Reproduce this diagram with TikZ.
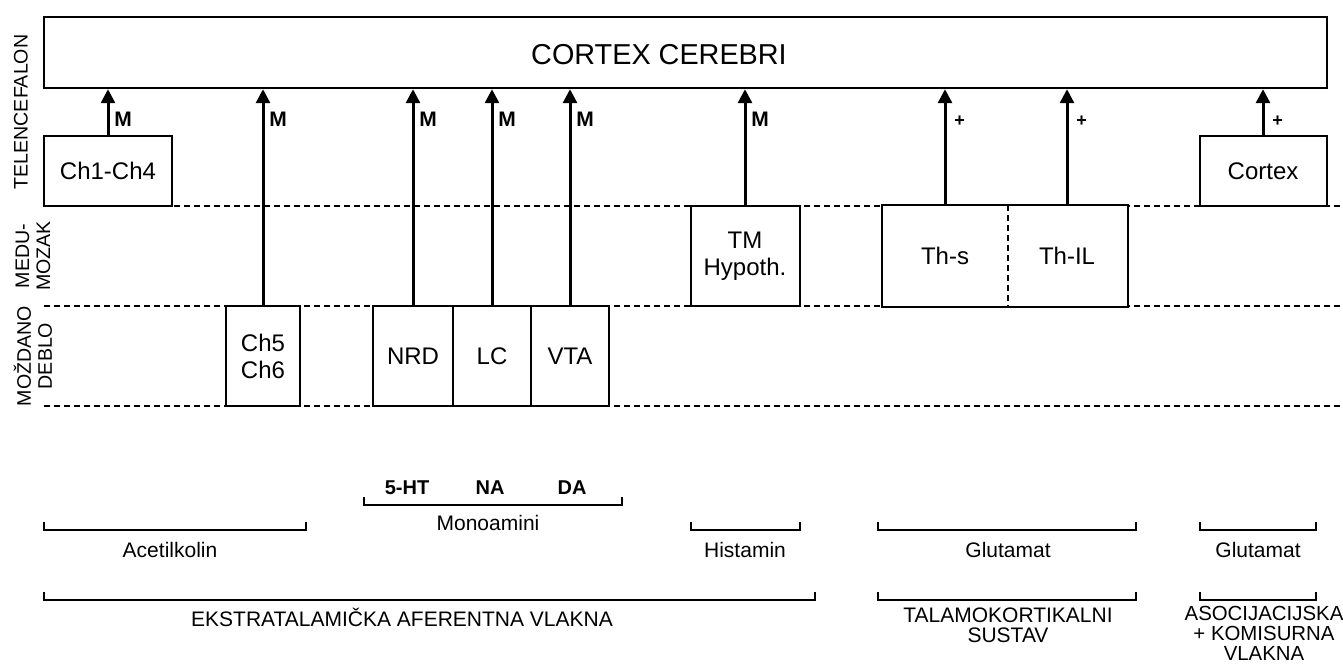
\documentclass[tikz,border=0pt]{standalone}
\usepackage{fontspec}
\setmainfont{Liberation Sans}
\usetikzlibrary{arrows.meta, calc}

\begin{document}
\begin{tikzpicture}[x=0.5pt, y=-0.5pt,
    box/.style={rectangle, draw, line width=1pt, fill=white, inner sep=0pt,
                font=\fontsize{12}{13.5}\selectfont, align=center},
    arr/.style={-{Triangle[length=7pt, width=7pt]}, line width=1.5pt},
    lvl/.style={line width=1pt, dash pattern=on 3pt off 2pt},
    side/.style={rotate=90, inner sep=0pt, align=center,
                 font=\fontsize{9.8}{10.5}\selectfont},
    syn/.style={inner sep=0pt, anchor=west, font=\bfseries\fontsize{10.5}{11}\selectfont},
    brk/.style={line width=1.2pt},
    lab/.style={inner sep=0pt, align=center, font=\fontsize{10.5}{10}\selectfont}
  ]
  \useasboundingbox (0,0) rectangle (1343,667);

  % levels
  \draw[lvl] (44,206) -- (1340,206);
  \draw[lvl] (44,306) -- (1340,306);
  \draw[lvl] (44,406) -- (1340,406);

  \node[side] (tel)  at (21,112) {TELENCEFALON};
  \node[side] (medu) at (33,256) {MEDU-\\MOZAK};
  \node[side] (mozd) at (33,356) {MOŽDANO\\DEBLO};

  % cortex
  \node[box, line width=1.2pt, minimum width=641.5pt, minimum height=35.5pt] (cc)
        at (685.5,52.5) {};
  \node[font=\fontsize{14.4}{15}\selectfont, inner sep=0pt] (cctext) at (659,55)
        {CORTEX CEREBRI};

  % nuclei
  \node[box, minimum width=64pt, minimum height=35pt] (ch14) at (108,171) {Ch1-Ch4};
  \node[box, minimum width=37pt, minimum height=50pt] (ch56) at (263,356) {Ch5\\Ch6};
  \node[box, minimum width=40pt, minimum height=50pt] (nrd)  at (413,356) {NRD};
  \node[box, minimum width=39pt, minimum height=50pt] (lc)   at (492,356) {LC};
  \node[box, minimum width=39pt, minimum height=50pt] (vta)  at (570,356) {VTA};
  \node[box, minimum width=54.5pt, minimum height=50pt] (tm) at (745,256) {TM\\Hypoth.};
  \node[box, draw=none, minimum width=62pt, minimum height=50pt] (ths)  at (945,256) {Th-s};
  \node[box, draw=none, minimum width=60pt, minimum height=50pt] (thil) at (1067,256) {Th-IL};
  \draw[line width=1pt] (ths.north west) rectangle (thil.south east);
  \draw[line width=0.8pt, dash pattern=on 3pt off 2pt] (ths.north east) -- (ths.south east);
  \node[box, minimum width=63.5pt, minimum height=35pt] (cx) at (1263,171) {Cortex};

  % projections
  \foreach \n/\s in {ch14/M, ch56/M, nrd/M, lc/M, vta/M, tm/M} {
    \draw[arr] (\n.north) -- (\n.north |- cc.south);
    \node[syn] at ($(\n.north |- 0,119)+(6,0)$) {\s};
  }
  \foreach \n in {ths, thil, cx} {
    \draw[arr] (\n.north) -- (\n.north |- cc.south);
    \node[syn, font=\bfseries\fontsize{9}{9}\selectfont] at ($(\n.north |- 0,121)+(9,0)$) {+};
  }

  % transmitters
  \draw[brk] (44,522) |- (306,530) -- (306,522);
  \node[lab] (ach) at (170,550) {Acetilkolin};
  \draw[brk] (364,497) |- (622,505) -- (622,497);
  \node[lab, font=\bfseries\fontsize{10}{10}\selectfont] (ht) at (407,488) {5-HT};
  \node[lab, font=\bfseries\fontsize{10}{10}\selectfont] (na) at (490,488) {NA};
  \node[lab, font=\bfseries\fontsize{10}{10}\selectfont] (da) at (572,488) {DA};
  \node[lab] (mono) at (488,523) {Monoamini};
  \draw[brk] (691,522) |- (800,530) -- (800,522);
  \node[lab] (hist) at (745,550) {Histamin};
  \draw[brk] (878,522) |- (1136,530) -- (1136,522);
  \node[lab] (glu) at (1008,550) {Glutamat};
  \draw[brk] (1200,522) |- (1316,530) -- (1316,522);
  \node[lab] (glub) at (1258,550) {Glutamat};

  % fibre systems
  \draw[brk] (44,592) |- (815,600) -- (815,592);
  \node[lab] (eks) at (402,617) {EKSTRATALAMIČKA AFERENTNA VLAKNA};
  \draw[brk] (878,592) |- (1136,600) -- (1136,592);
  \node[lab, anchor=north] (tal) at (1008,607) {TALAMOKORTIKALNI\\SUSTAV};
  \draw[brk] (1200,592) |- (1316,600) -- (1316,592);
  \node[lab, anchor=north, font=\fontsize{10.2}{10}\selectfont] (aso) at (1264,606)
        {ASOCIJACIJSKA\\+ KOMISURNA\\VLAKNA};
\end{tikzpicture}
\end{document}
